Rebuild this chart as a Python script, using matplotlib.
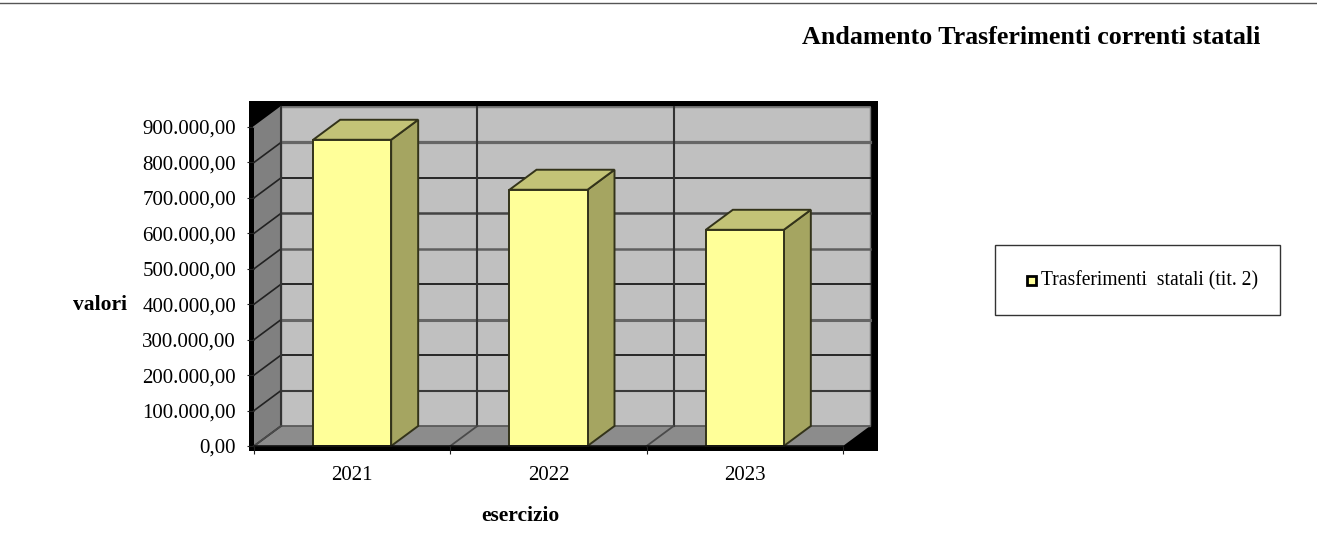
import matplotlib

matplotlib.use("Agg")
import matplotlib.pyplot as plt  # noqa: E402
from matplotlib.patches import Polygon, Rectangle  # noqa: E402
from matplotlib.transforms import ScaledTranslation  # noqa: E402

plt.rcParams["font.family"] = ["Liberation Serif", "DejaVu Serif"]

YEARS = ["2021", "2022", "2023"]
VALUES = [864000, 723000, 610000]
Y_TICKS = [0, 100000, 200000, 300000, 400000, 500000, 600000, 700000, 800000, 900000]
Y_LABELS = ["0,00", "100.000,00", "200.000,00", "300.000,00", "400.000,00",
            "500.000,00", "600.000,00", "700.000,00", "800.000,00", "900.000,00"]
# grid lines come out unevenly dark in the source image
GRID_COLORS = ["#555555", "#3a3a3a", "#1a1a1a", "#666666", "#1a1a1a",
               "#5f5f5f", "#444444", "#1a1a1a", "#666666", "#808080"]
GRID_WIDTHS = [1.2, 1.5, 1.3, 2.2, 1.3, 1.8, 1.8, 1.3, 2.3, 1.2]

W, H = 1317, 540
# pixel box of the front plane
LEFT, RIGHT, TOP, BOTTOM = 254, 843, 127, 446
X_PX = (RIGHT - LEFT) / 3
Y_PX = (BOTTOM - TOP) / 900000
DX = 27 / X_PX
DY = 20 / Y_PX
BAR_W = 78 / X_PX

FACE = "#FFFF99"
TOP_C = "#C3C377"
SIDE_C = "#A5A561"
EDGE = "#33331a"


def poly(ax, pts, color, edge="none", lw=0.0, z=1):
    ax.add_patch(Polygon(pts, closed=True, facecolor=color, edgecolor=edge, linewidth=lw, zorder=z, clip_on=False))


fig = plt.figure(figsize=(W / 100, H / 100), dpi=100)
ax = fig.add_axes([LEFT / W, 1 - BOTTOM / H, (RIGHT - LEFT) / W, (BOTTOM - TOP) / H])
ax.set_xlim(0, 3)
ax.set_ylim(0, 900000)
for spine in ax.spines.values():
    spine.set_visible(False)
ax.patch.set_visible(False)

# black frame behind the 3d box
ax.add_patch(Rectangle((-5 / X_PX, -5 / Y_PX), (878 - 249) / X_PX, (451 - 101) / Y_PX,
                       facecolor="black", edgecolor="none", zorder=0, clip_on=False))

top_y = 900000 + DY
poly(ax, [(DX, DY), (3 + DX, DY), (3 + DX, top_y), (DX, top_y)], "#C0C0C0", "#777777", 1.0, z=1)
poly(ax, [(0, 0), (DX, DY), (DX, top_y), (0, 900000)], "#808080", z=1)
poly(ax, [(0, 0), (3, 0), (3 + DX, DY), (DX, DY)], "#8C8C8C", z=1)

for val, color, width in zip(Y_TICKS, GRID_COLORS, GRID_WIDTHS):
    ax.plot([DX, 3 + DX], [val + DY, val + DY], color=color, lw=width, zorder=2, clip_on=False)
    side = "#808080" if val == 900000 else "#222222"
    ax.plot([0, DX], [val, val + DY], color=side, lw=1.2, zorder=2, clip_on=False)
for xpos in [0, 1, 2]:
    ax.plot([xpos + DX, xpos + DX], [DY, top_y], color="#333333", lw=1.5, zorder=2, clip_on=False)
    ax.plot([xpos, xpos + DX], [0, DY], color="#4a4a4a", lw=1.3, zorder=2, clip_on=False)

for idx, value in enumerate(VALUES):
    x0 = idx + 0.5 - BAR_W / 2
    x1 = x0 + BAR_W
    poly(ax, [(x1, 0), (x1 + DX, DY), (x1 + DX, value + DY), (x1, value)], SIDE_C, EDGE, 1.4, z=3)
    poly(ax, [(x0, value), (x1, value), (x1 + DX, value + DY), (x0 + DX, value + DY)], TOP_C, EDGE, 1.4, z=3)
    poly(ax, [(x0, 0), (x1, 0), (x1, value), (x0, value)], FACE, EDGE, 1.4, z=4)

ax.plot([0, 3], [0, 0], color="#111111", lw=1.2, zorder=5, clip_on=False)

ax.set_yticks(Y_TICKS)
ax.set_yticklabels(Y_LABELS, fontsize=15, color="black")
nudge = ScaledTranslation(0, -1 / 100, fig.dpi_scale_trans)
for label in ax.get_yticklabels():
    label.set_transform(label.get_transform() + nudge)
ax.set_xticks([0, 1, 2, 3])
ax.set_xticklabels([])
ax.set_xticks([0.5, 1.5, 2.5], minor=True)
ax.set_xticklabels(YEARS, minor=True, fontsize=15)
ax.tick_params(axis="x", which="minor", length=0, pad=14.7)
ax.tick_params(axis="x", which="major", length=6, width=0.8, color="#222222", direction="out")
ax.tick_params(axis="y", length=5, width=0.8, color="#222222", pad=7.9)

fig.text(127 / W, 1 - 304.5 / H, "valori", fontsize=15.5, fontweight="bold", ha="right", va="center")
fig.text(520 / W, 1 - 516 / H, "esercizio", fontsize=15.5, fontweight="bold", ha="center", va="center")
fig.text(1260 / W, 1 - 37 / H, "Andamento Trasferimenti correnti statali", fontsize=18.75, fontweight="bold",
         ha="right", va="center")

# rule across the top of the page
fig.add_artist(plt.Line2D([0, 1], [1 - 3.0 / H, 1 - 3.0 / H], color="#555555", lw=1.0))

# legend is drawn by hand, its box is wider than a stock legend
fig.add_artist(Rectangle((994.5 / W, 1 - 314.5 / H), 285.5 / W, 70 / H, transform=fig.transFigure,
                         facecolor="white", edgecolor="#333333", linewidth=1.0))
fig.add_artist(Rectangle((1026.5 / W, 1 - 284.5 / H), 9 / W, 9 / H, transform=fig.transFigure,
                         facecolor=FACE, edgecolor="black", linewidth=2.0))
fig.text(1041 / W, 1 - 281 / H, "Trasferimenti  statali (tit. 2)", fontsize=14.1, ha="left", va="center")

fig.savefig("out.png", dpi=100)
plt.close(fig)
